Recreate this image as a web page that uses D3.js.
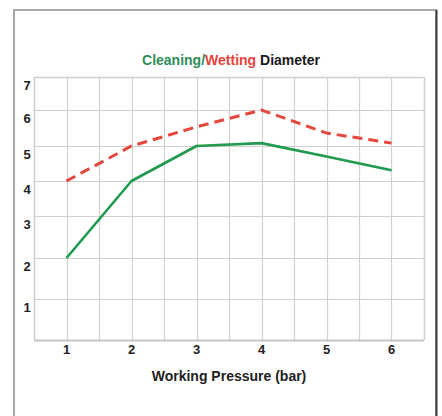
<!DOCTYPE html>
<html>
<head>
<meta charset="utf-8">
<script src="https://cdn.jsdelivr.net/npm/d3@7"></script>
<style>
  body { margin: 0; background: #fff; }
  svg { display: block; font-family: "Liberation Sans", Arial, sans-serif; font-weight: bold; }
</style>
</head>
<body>
<div id="chart"></div>
<script>
// working pressure (bar)
var pressure = [1, 2, 3, 4, 5, 6];
var cleaning = [2, 4, 5, 5.08, 4.7, 4.31];
var wetting = [4, 5, 5.53, 6, 5.36, 5.08];
var yTicks = [1, 2, 3, 4, 5, 6, 7];
var xGrid = [0.5, 1, 1.5, 2, 2.5, 3, 3.5, 4, 4.5, 5, 5.5, 6, 6.5];
var yGrid = [0, 1, 2, 3, 4, 5, 6, 7];

var width = 442, height = 416;

var svg = d3.select('#chart')
  .append('svg')
  .attr('width', width)
  .attr('height', height);

// outer frame
svg.append('rect')
  .attr('x', 14).attr('y', 10)
  .attr('width', 422).attr('height', 420)
  .attr('fill', 'none')
  .attr('stroke', '#8a8a8a')
  .attr('stroke-width', 1.5);
svg.append('line')
  .attr('x1', 436.5).attr('x2', 436.5)
  .attr('y1', 10).attr('y2', height)
  .attr('stroke', '#3a3a3a')
  .attr('stroke-width', 2);

var x = d3.scaleLinear().domain([0.5, 6.5]).range([34, 424]);
// the printed axis is not evenly spaced, so the scale is piecewise
var y = d3.scaleLinear()
  .domain([0, 1, 2, 3, 4, 5, 6, 7])
  .range([340, 299, 258, 216, 181, 146, 110, 77]);

var grid = svg.append('g').attr('class', 'grid');

grid.selectAll('.vgrid')
  .data(xGrid)
  .enter()
  .append('line')
  .attr('class', 'vgrid')
  .attr('x1', function(d) { return Math.round(x(d)) + 0.5; })
  .attr('x2', function(d) { return Math.round(x(d)) + 0.5; })
  .attr('y1', y(7)).attr('y2', y(0))
  .attr('stroke', '#d0d0d0')
  .attr('stroke-width', function(d, i) { return (i == 0 || i == xGrid.length - 1) ? 1.6 : 1.2; });

grid.selectAll('.hgrid')
  .data(yGrid)
  .enter()
  .append('line')
  .attr('class', 'hgrid')
  .attr('x1', x(0.5)).attr('x2', x(6.5))
  .attr('y1', function(d) { return Math.round(y(d)) + 0.5; })
  .attr('y2', function(d) { return Math.round(y(d)) + 0.5; })
  .attr('stroke', function(d) { return d == 0 ? '#c4c4c4' : '#d0d0d0'; })
  .attr('stroke-width', function(d) { return (d == 0) ? 2 : (d == 7 ? 1.6 : 1.2); });

// y axis labels sit just under their grid line
svg.append('g')
  .selectAll('text')
  .data(yTicks)
  .enter()
  .append('text')
  .attr('x', 27)
  .attr('y', function(d) { return y(d) + 13; })
  .attr('text-anchor', 'middle')
  .attr('font-size', 13)
  .attr('fill', '#222')
  .text(function(d) { return d; });

svg.append('g')
  .selectAll('text')
  .data(pressure)
  .enter()
  .append('text')
  .attr('x', function(d) { return x(d); })
  .attr('y', 354)
  .attr('text-anchor', 'middle')
  .attr('font-size', 13)
  .attr('fill', '#222')
  .text(function(d) { return d; });

var line = d3.line()
  .x(function(d, i) { return x(pressure[i]); })
  .y(function(d) { return y(d); });

svg.append('path')
  .datum(wetting)
  .attr('d', line)
  .attr('fill', 'none')
  .attr('stroke', '#e4473c')
  .attr('stroke-width', 3)
  .attr('stroke-dasharray', '10,6');

svg.append('path')
  .datum(cleaning)
  .attr('d', line)
  .attr('fill', 'none')
  .attr('stroke', '#1f9a4e')
  .attr('stroke-width', 2.6)
  .attr('stroke-linejoin', 'round');

// title in three colours
var title = svg.append('text')
  .attr('x', 231)
  .attr('y', 65)
  .attr('text-anchor', 'middle')
  .attr('font-size', 14);
title.append('tspan').attr('fill', '#2f8d58').text('Cleaning/');
title.append('tspan').attr('fill', '#e8433a').text('Wetting');
title.append('tspan').attr('fill', '#1a1a1a').text(' Diameter');

svg.append('text')
  .attr('x', 229)
  .attr('y', 381)
  .attr('text-anchor', 'middle')
  .attr('font-size', 14)
  .attr('fill', '#222')
  .text('Working Pressure (bar)');
</script>
</body>
</html>
